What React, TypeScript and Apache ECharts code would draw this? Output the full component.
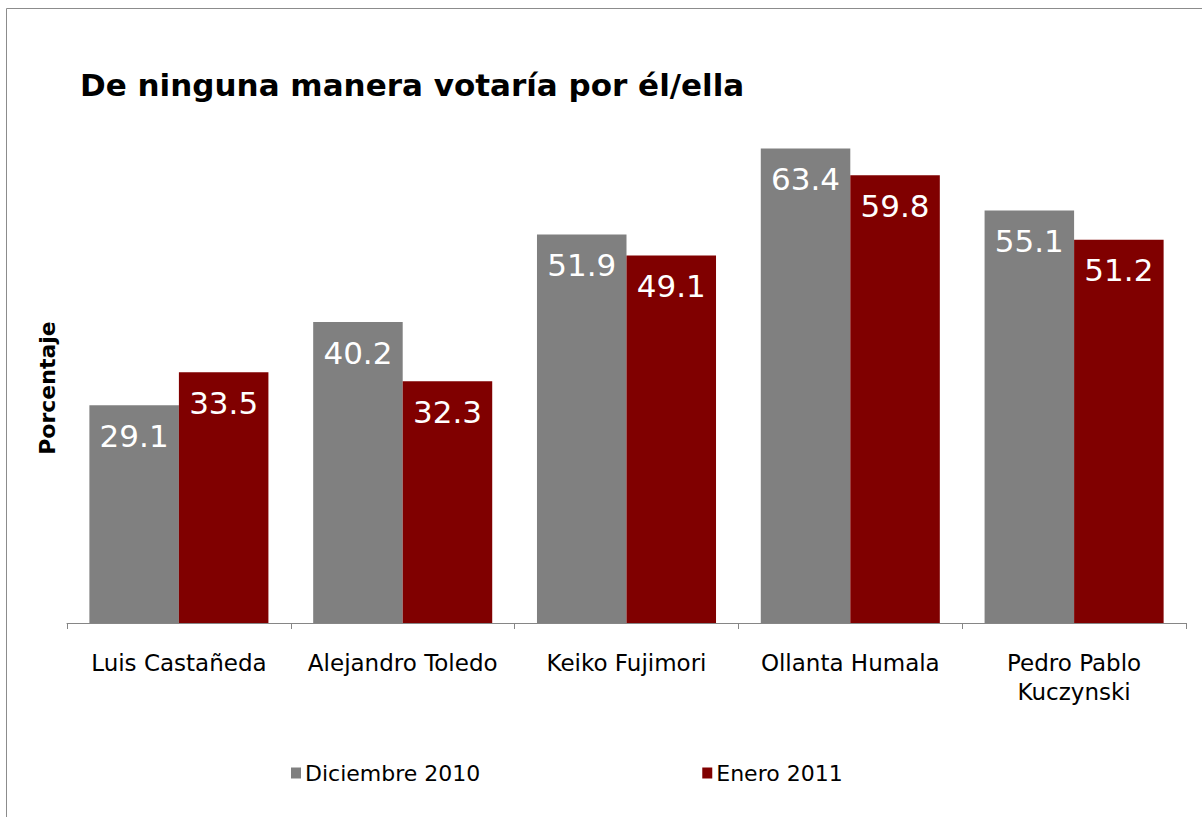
import React, { useEffect, useRef } from "react";
import * as echarts from "echarts";

const categories = [
  "Luis Castañeda",
  "Alejandro Toledo",
  "Keiko Fujimori",
  "Ollanta Humala",
  "Pedro Pablo\nKuczynski",
];
const seriesNames = ["Diciembre 2010", "Enero 2011"];
const dic2010 = [29.1, 40.2, 51.9, 63.4, 55.1];
const ene2011 = [33.5, 32.3, 49.1, 59.8, 51.2];
const chartTitle = "De ninguna manera votaría por él/ella";
const yAxisTitle = "Porcentaje";

const FONT = "DejaVu Sans, Verdana, sans-serif";

export default function App() {
  const ref = useRef<HTMLDivElement>(null);
  useEffect(() => {
    if (!ref.current) return;
    const chart = echarts.init(ref.current, undefined, { renderer: "svg" });
    const labelStyle = {
      show: true,
      position: "insideTop",
      distance: 15,
      color: "#ffffff",
      fontSize: 31,
      fontFamily: FONT,
      formatter: (p: any) => p.value.toFixed(1),
    };
    chart.setOption({
      animation: false,
      backgroundColor: "#ffffff",
      textStyle: { fontFamily: FONT },
      grid: { left: 67, right: 16, top: 99, bottom: 194 },
      xAxis: {
        type: "category",
        data: categories,
        axisLine: { show: true, lineStyle: { color: "#868686", width: 1 } },
        axisTick: { show: true, length: 6, lineStyle: { color: "#868686" } },
        axisLabel: {
          color: "#000000",
          fontSize: 23,
          fontFamily: FONT,
          margin: 25,
          lineHeight: 29,
          interval: 0,
        },
      },
      yAxis: {
        type: "value",
        min: 0,
        max: 70,
        show: false,
        splitLine: { show: false },
      },
      legend: {
        left: 291,
        top: 762,
        padding: 0,
        itemWidth: 10,
        itemHeight: 11,
        itemGap: 222,
        icon: "rect",
        textStyle: { fontSize: 22, fontFamily: FONT, color: "#000000", padding: [0, 0, 0, -1] },
        data: seriesNames,
      },
      series: [
        {
          name: seriesNames[0],
          type: "bar",
          data: dic2010,
          barGap: "0%",
          barCategoryGap: "20%",
          itemStyle: { color: "#808080" },
          label: labelStyle,
        },
        {
          name: seriesNames[1],
          type: "bar",
          data: ene2011,
          barGap: "0%",
          barCategoryGap: "20%",
          itemStyle: { color: "#800000" },
          label: labelStyle,
        },
      ],
      graphic: [
        {
          type: "rect",
          shape: { x: 6.5, y: 8.5, width: 1300, height: 1000 },
          style: { fill: "none", stroke: "#8c8c8c", lineWidth: 1 },
          silent: true,
        },
        {
          type: "text",
          x: 80,
          y: 85,
          style: {
            text: chartTitle,
            fontSize: 31,
            fontWeight: "bold",
            fontFamily: FONT,
            fill: "#000000",
            textAlign: "left",
            textVerticalAlign: "middle",
          },
        },
        {
          type: "text",
          x: 47,
          y: 388,
          rotation: Math.PI / 2,
          style: {
            text: yAxisTitle,
            fontSize: 22,
            fontWeight: "bold",
            fontFamily: FONT,
            fill: "#000000",
            textAlign: "center",
            textVerticalAlign: "middle",
          },
        },
      ],
    });
    return () => chart.dispose();
  }, []);
  return (
    <div
      ref={ref}
      style={{ position: "absolute", left: 0, top: 0, width: 1202, height: 817 }}
    />
  );
}
